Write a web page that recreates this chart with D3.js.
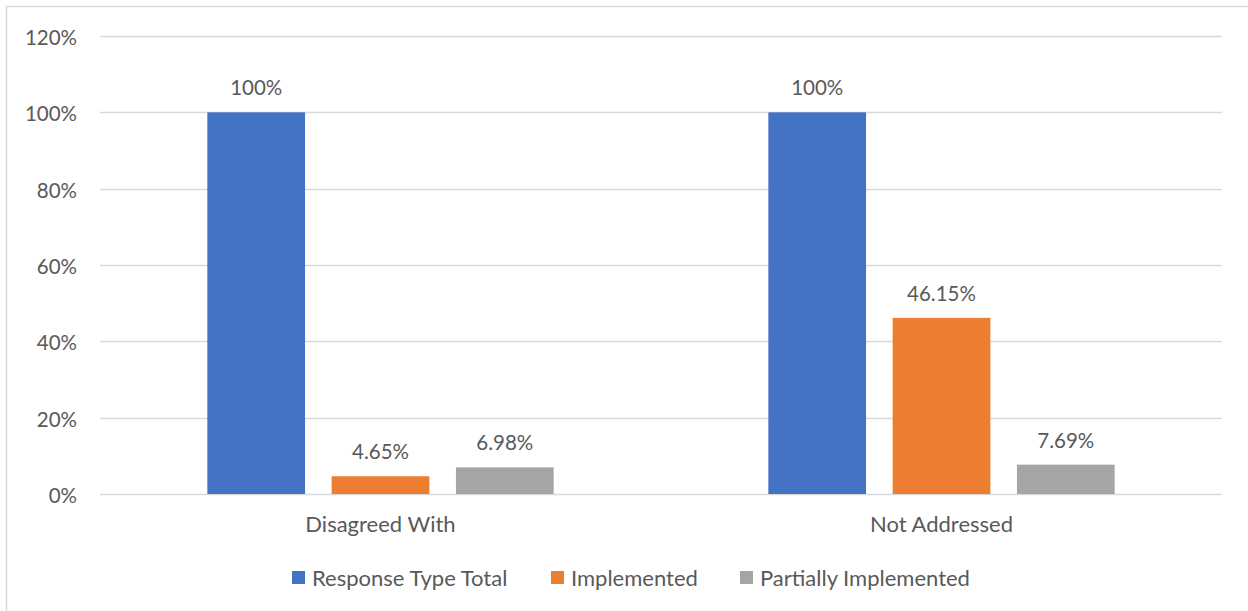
<!DOCTYPE html>
<html>
<head>
<meta charset="utf-8">
<script src="https://cdn.jsdelivr.net/npm/d3@7"></script>
<style>
  html, body { margin: 0; padding: 0; background: #fff; }
  svg { display: block; }
  text { font-family: "Lato", "Liberation Sans", sans-serif; fill: #595959; }
</style>
</head>
<body>
<svg id="chart" width="1248" height="611"></svg>
<script>
// Response categories and series
const categories = ["Disagreed With", "Not Addressed"];
const seriesNames = ["Response Type Total", "Implemented", "Partially Implemented"];
const responseTypeTotal = [100, 100];
const implemented = [4.65, 46.15];
const partiallyImplemented = [6.98, 7.69];
const valueLabels = [["100%", "4.65%", "6.98%"], ["100%", "46.15%", "7.69%"]];
const yTicks = [0, 20, 40, 60, 80, 100, 120];
const colors = ["#4472c4", "#ed7d31", "#a5a5a5"];

const seriesValues = [responseTypeTotal, implemented, partiallyImplemented];

const svg = d3.select("#chart");
const W = 1248, H = 611;
const plot = { left: 100, right: 1222, top: 36, bottom: 494 };
const numSize = 20.5, textSize = 22;

// chart frame (top and left edges visible)
svg.append("path")
  .attr("d", `M6.5,${H} V6.5 H${W}`)
  .attr("fill", "none")
  .attr("stroke", "#d9d9d9")
  .attr("stroke-width", 1.5);

const y = d3.scaleLinear().domain([0, 120]).range([plot.bottom, plot.top]);
const x0 = d3.scaleBand().domain(categories).range([plot.left, plot.right]).padding(0);
const x1 = d3.scaleBand().domain(seriesNames).range([0, x0.bandwidth()])
  .paddingInner(0.214).paddingOuter(0.8635);

// gridlines
svg.append("g")
  .selectAll("line")
  .data(yTicks)
  .join("line")
  .attr("x1", plot.left).attr("x2", plot.right)
  .attr("y1", d => Math.round(y(d)) + 0.5).attr("y2", d => Math.round(y(d)) + 0.5)
  .attr("stroke", "#d9d9d9").attr("stroke-width", 1.3);

// y axis labels
const yAxis = d3.axisLeft(y).tickValues(yTicks).tickFormat(d => d + "%").tickSize(0).tickPadding(0);
const yg = svg.append("g").attr("transform", `translate(77,0)`).call(yAxis);
yg.select(".domain").remove();
yg.selectAll("text").attr("font-size", numSize).attr("fill", "#595959")
  .style("font-family", "Lato, sans-serif").attr("dy", "0.42em");

// bars
const groups = svg.append("g")
  .selectAll("g")
  .data(categories)
  .join("g")
  .attr("transform", d => `translate(${x0(d)},0)`);

groups.each(function (cat, ci) {
  const g = d3.select(this);
  const data = seriesNames.map((s, si) => ({ s, si, v: seriesValues[si][ci], label: valueLabels[ci][si] }));
  g.selectAll("rect")
    .data(data)
    .join("rect")
    .attr("x", d => x1(d.s))
    .attr("width", x1.bandwidth())
    .attr("y", d => y(d.v))
    .attr("height", d => y(0) - y(d.v))
    .attr("fill", d => colors[d.si]);
  g.selectAll("text.val")
    .data(data)
    .join("text")
    .attr("class", "val")
    .attr("x", d => x1(d.s) + x1.bandwidth() / 2)
    .attr("y", d => y(d.v) - 17)
    .attr("text-anchor", "middle")
    .attr("font-size", numSize)
    .text(d => d.label);
});

// category axis labels
const xAxis = d3.axisBottom(x0).tickSize(0).tickPadding(0);
const xg = svg.append("g").attr("transform", `translate(0,${plot.bottom})`).call(xAxis);
xg.select(".domain").remove();
xg.selectAll("text").attr("font-size", textSize).attr("fill", "#595959")
  .style("font-family", "Lato, sans-serif").attr("dy", 0).attr("y", 38);

// legend
const legendItems = [
  { name: seriesNames[0], x: 292 },
  { name: seriesNames[1], x: 551 },
  { name: seriesNames[2], x: 740 }
];
const lg = svg.append("g").selectAll("g").data(legendItems).join("g")
  .attr("transform", d => `translate(${d.x},571)`);
lg.append("rect").attr("width", 13).attr("height", 13).attr("fill", (d, i) => colors[i]);
lg.append("text").attr("x", 20).attr("y", 15).attr("font-size", textSize).text(d => d.name);
</script>
</body>
</html>
